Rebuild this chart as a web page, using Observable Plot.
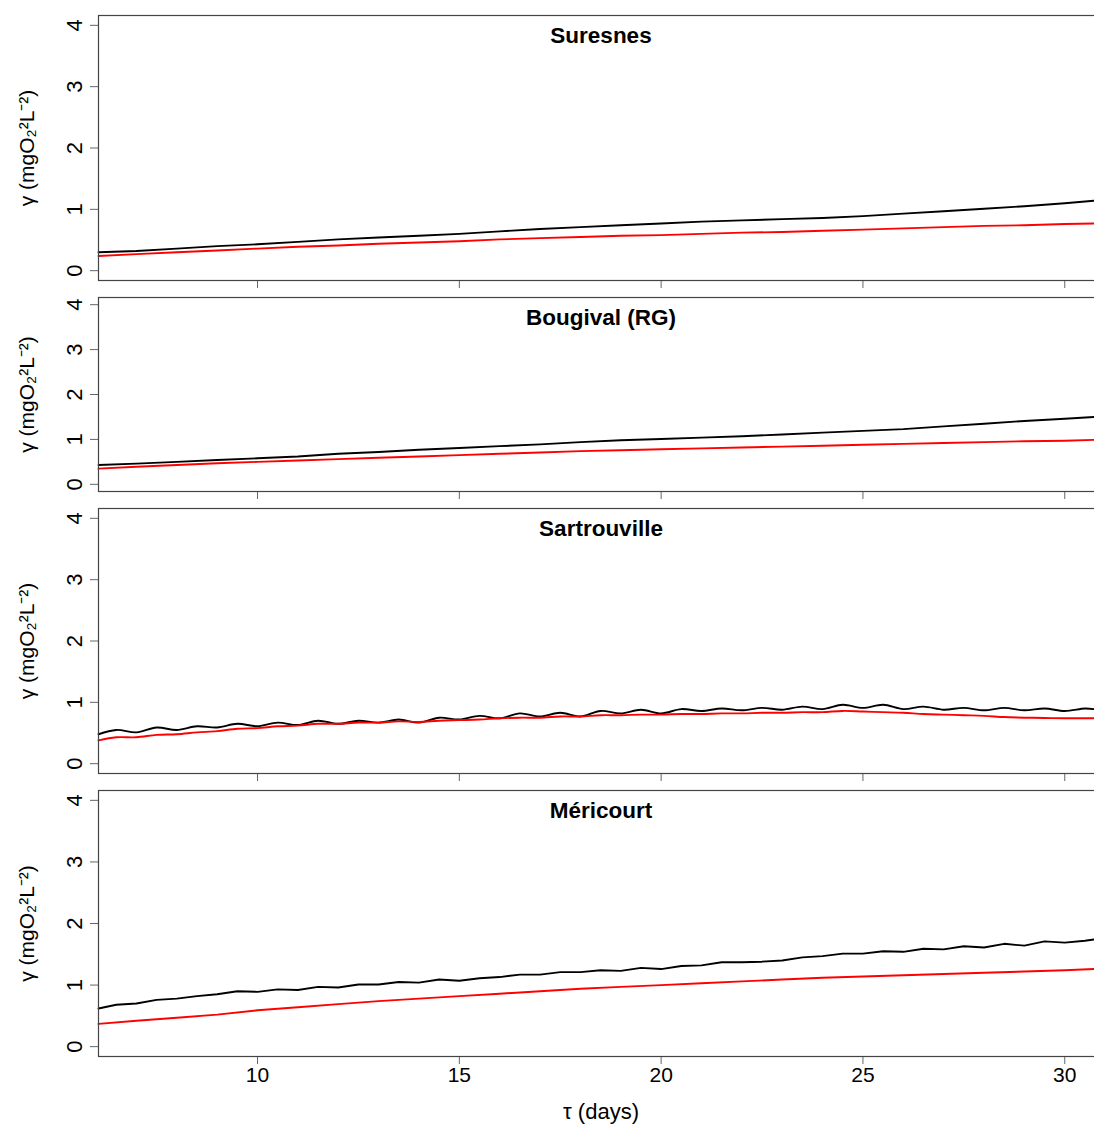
<!DOCTYPE html>
<html>
<head>
<meta charset="utf-8">
<script src="https://cdn.jsdelivr.net/npm/d3@7"></script>
<script src="https://cdn.jsdelivr.net/npm/@observablehq/plot@0.6"></script>
<style>
  html, body { margin: 0; padding: 0; background: #fff; overflow: hidden; }
  #chart { position: relative; width: 1094px; height: 1126px; overflow: hidden; background: #fff; }
  #chart svg { position: absolute; left: 0; }
</style>
</head>
<body>
<div id="chart"></div>
<script>
// ---- data ----
const titles = ["Suresnes", "Bougival (RG)", "Sartrouville", "Méricourt"];
const yTicks = [0, 1, 2, 3, 4];
const xTicks = [10, 15, 20, 25, 30];
const yLabel = "γ (mgO₂²L⁻²)";
const xLabel = "τ (days)";

// daily sampling (days)
const daysDaily = [6.06, 7, 8, 9, 10, 11, 12, 13, 14, 15, 16, 17, 18, 19, 20, 21, 22, 23, 24, 25, 26, 27, 28, 29, 30, 30.72];
// half-day sampling (days)
const daysHalf = [6.06, 6.5, 7, 7.5, 8, 8.5, 9, 9.5, 10, 10.5, 11, 11.5, 12, 12.5, 13, 13.5, 14, 14.5, 15, 15.5,
  16, 16.5, 17, 17.5, 18, 18.5, 19, 19.5, 20, 20.5, 21, 21.5, 22, 22.5, 23, 23.5, 24, 24.5, 25, 25.5,
  26, 26.5, 27, 27.5, 28, 28.5, 29, 29.5, 30, 30.5, 30.72];

const suresnesBlack = [0.30, 0.32, 0.36, 0.40, 0.43, 0.47, 0.51, 0.54, 0.57, 0.60, 0.64, 0.68, 0.71, 0.74, 0.77, 0.80, 0.82, 0.84, 0.86, 0.89, 0.93, 0.97, 1.01, 1.05, 1.10, 1.14];
const suresnesRed   = [0.24, 0.27, 0.30, 0.33, 0.36, 0.39, 0.41, 0.44, 0.46, 0.48, 0.51, 0.53, 0.55, 0.57, 0.58, 0.60, 0.62, 0.63, 0.65, 0.67, 0.69, 0.71, 0.73, 0.74, 0.76, 0.77];

const bougivalBlack = [0.43, 0.46, 0.50, 0.54, 0.58, 0.62, 0.68, 0.72, 0.77, 0.81, 0.85, 0.89, 0.94, 0.98, 1.01, 1.04, 1.07, 1.11, 1.15, 1.19, 1.23, 1.29, 1.35, 1.41, 1.46, 1.50];
const bougivalRed   = [0.35, 0.39, 0.43, 0.47, 0.50, 0.53, 0.56, 0.59, 0.62, 0.65, 0.68, 0.71, 0.74, 0.76, 0.78, 0.80, 0.82, 0.84, 0.86, 0.88, 0.90, 0.92, 0.94, 0.96, 0.97, 0.99];

const sartrouvilleBlack = [0.48, 0.55, 0.51, 0.59, 0.55, 0.61, 0.59, 0.65, 0.61, 0.67, 0.63, 0.70, 0.65, 0.70, 0.67, 0.72, 0.67, 0.75, 0.72, 0.78,
  0.74, 0.82, 0.77, 0.83, 0.77, 0.86, 0.82, 0.88, 0.82, 0.89, 0.86, 0.90, 0.87, 0.91, 0.88, 0.93, 0.89, 0.96, 0.91, 0.96,
  0.89, 0.93, 0.88, 0.91, 0.87, 0.91, 0.87, 0.90, 0.86, 0.90, 0.89];
const sartrouvilleRed = [0.38, 0.43, 0.43, 0.47, 0.48, 0.51, 0.53, 0.57, 0.58, 0.61, 0.62, 0.65, 0.65, 0.67, 0.67, 0.69, 0.68, 0.70, 0.71, 0.72,
  0.74, 0.75, 0.75, 0.77, 0.77, 0.79, 0.79, 0.80, 0.80, 0.81, 0.81, 0.82, 0.82, 0.83, 0.83, 0.84, 0.84, 0.86, 0.85, 0.84,
  0.83, 0.81, 0.80, 0.79, 0.78, 0.76, 0.75, 0.745, 0.74, 0.74, 0.74];

const mericourtBlack = [0.62, 0.68, 0.70, 0.76, 0.78, 0.82, 0.85, 0.90, 0.89, 0.93, 0.92, 0.97, 0.96, 1.01, 1.01, 1.05, 1.04, 1.09, 1.07, 1.11,
  1.13, 1.17, 1.17, 1.21, 1.21, 1.24, 1.23, 1.28, 1.26, 1.31, 1.32, 1.37, 1.37, 1.38, 1.40, 1.45, 1.47, 1.51, 1.51, 1.55,
  1.54, 1.59, 1.58, 1.63, 1.61, 1.67, 1.64, 1.71, 1.69, 1.72, 1.74];
const mericourtRed = [0.37, 0.42, 0.47, 0.52, 0.59, 0.64, 0.69, 0.74, 0.78, 0.82, 0.86, 0.90, 0.94, 0.97, 1.00, 1.03, 1.06, 1.09, 1.12, 1.14, 1.16, 1.18, 1.20, 1.22, 1.24, 1.26];

// ---- drawing ----
const FONT = "'Liberation Sans', Arial, Helvetica, sans-serif";
const xDomain = [6.06, 30.96];
const yDomain = [-0.16, 4.16];

function rows(xs, ys) { return xs.map((d, i) => ({day: d, gamma: ys[i]})); }

const panels = [
  {title: titles[0], top: 0,   frameH: 265, bx: daysDaily, black: suresnesBlack,     rx: daysDaily, red: suresnesRed,     curve: "linear"},
  {title: titles[1], top: 282, frameH: 194, bx: daysDaily, black: bougivalBlack,     rx: daysDaily, red: bougivalRed,     curve: "linear"},
  {title: titles[2], top: 493, frameH: 265, bx: daysHalf,  black: sartrouvilleBlack, rx: daysHalf,  red: sartrouvilleRed, curve: "catmull-rom"},
  {title: titles[3], top: 775, frameH: 266, bx: daysHalf,  black: mericourtBlack,    rx: daysDaily, red: mericourtRed,    curve: "linear", last: true}
];

const chart = document.getElementById("chart");

for (const p of panels) {
  const mt = 15, mb = p.last ? 76 : 12;
  const marks = [
    Plot.axisY({ticks: yTicks, tickSize: 8, tickFormat: () => "", label: null, stroke: "#666"}),
    Plot.text(yTicks, {y: d => d, text: d => String(d), frameAnchor: "left", dx: -24, rotate: -90,
      textAnchor: "middle", lineAnchor: "middle", fontSize: 22, fill: "#000"}),
    Plot.axisX({ticks: xTicks, tickSize: 8, tickPadding: 3, tickFormat: p.last ? (d => String(d)) : (() => ""),
      label: null, stroke: "#666", fontSize: 21, fill: "#000"}),
    Plot.line(rows(p.bx, p.black), {x: "day", y: "gamma", stroke: "#000", strokeWidth: 1.9, curve: p.curve}),
    Plot.line(rows(p.rx, p.red), {x: "day", y: "gamma", stroke: "#ff0000", strokeWidth: 1.9, curve: p.curve}),
    Plot.frame({stroke: "#444", strokeWidth: 1.2}),
    Plot.text([p.title], {text: d => d, frameAnchor: "top", dy: 20, textAnchor: "middle", lineAnchor: "middle",
      fontSize: 22.5, fontWeight: "bold", fill: "#000"}),
    Plot.text([yLabel], {text: d => d, frameAnchor: "left", dx: -71, rotate: -90, textAnchor: "middle",
      lineAnchor: "middle", fontSize: 21, fill: "#000"})
  ];
  if (p.last) {
    marks.push(Plot.text([xLabel], {text: d => d, frameAnchor: "bottom", dy: 55, textAnchor: "middle",
      lineAnchor: "middle", fontSize: 22, fill: "#000"}));
  }
  const svg = Plot.plot({
    width: 1103,
    height: mt + p.frameH + mb,
    marginTop: mt,
    marginBottom: mb,
    marginLeft: 98,
    marginRight: 0,
    x: {domain: xDomain},
    y: {domain: yDomain},
    style: {fontFamily: FONT, background: "transparent", overflow: "visible", maxWidth: "none", color: "#000"},
    marks
  });
  svg.style.top = p.top + "px";
  chart.appendChild(svg);
}
</script>
</body>
</html>
